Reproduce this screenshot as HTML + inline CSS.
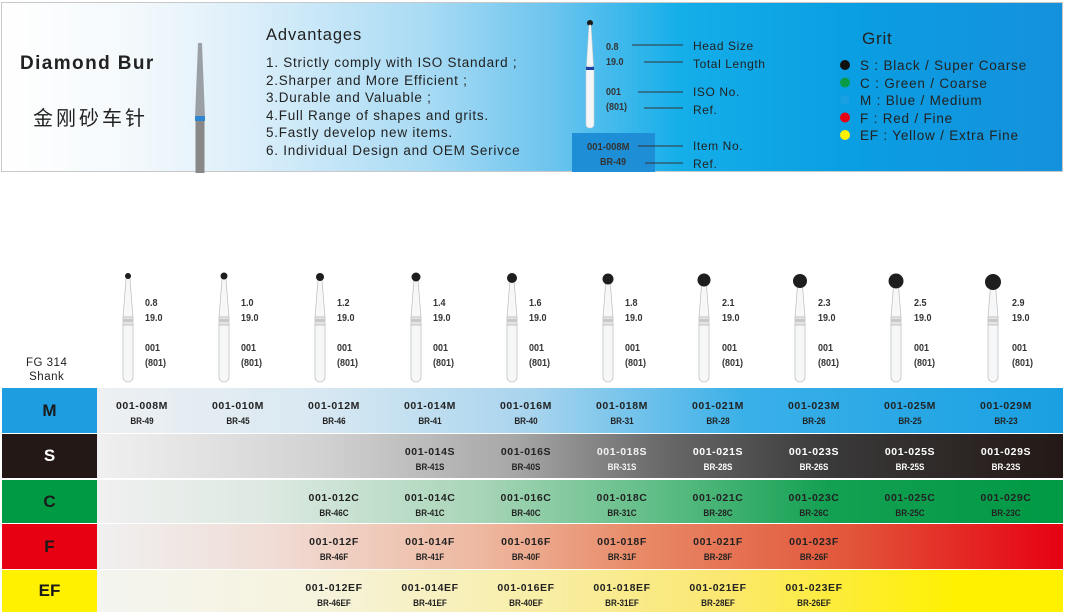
<!DOCTYPE html>
<html><head><meta charset="utf-8"><style>
*{margin:0;padding:0;box-sizing:border-box}
body{width:1065px;height:612px;background:#fff;position:relative;overflow:hidden;font-family:"Liberation Sans","Noto Sans CJK SC",sans-serif;color:#222}
.hdr{position:absolute;left:1px;top:2px;width:1062px;height:170px;border:1px solid #c8c8c8;background:linear-gradient(90deg,#fff 0%,#f4f9fc 12%,#dff0fa 22%,#a9dbf4 40%,#6cc4ee 52%,#14aee9 64%,#0a9ee2 80%,#1591dc 100%)}
.a{position:absolute;white-space:nowrap}
.row{position:absolute;left:2px;width:1061px}
.lab{position:absolute;left:0;top:0;width:95px;height:100%;display:flex;align-items:center;justify-content:center;font-weight:bold;font-size:17px}
.cell{position:absolute;width:96px;text-align:center;font-weight:bold;color:#222}
.cell b{display:block;font-size:10.5px;letter-spacing:.6px;margin-top:12px}
.cell i{display:block;font-style:normal;font-size:9.5px;margin-top:4px;transform:scaleX(.85)}
.sp{position:absolute;font-size:10px;font-weight:bold;line-height:15px;color:#333;transform:scaleX(.9);transform-origin:left}
</style></head><body>
<div class="hdr"></div>
<div class="a" style="left:20px;top:53px;font-size:19px;font-weight:bold;letter-spacing:1.4px">Diamond Bur</div>
<div class="a" style="left:33px;top:102px;font-size:20px;letter-spacing:3px">金刚砂车针</div>
<svg class="a" style="left:190px;top:40px" width="20" height="133"><polygon points="8,3 12,3 15,78 5,78" fill="#9aa0a6"/><rect x="5" y="76" width="10" height="5" fill="#2e86d0"/><rect x="5.5" y="81" width="9" height="52" fill="#888"/></svg>
<div class="a" style="left:266px;top:26px;font-size:16.5px;letter-spacing:.9px">Advantages</div>
<div class="a" style="left:266px;top:54px;font-size:13.5px;line-height:17.5px;letter-spacing:.75px">1. Strictly comply with ISO Standard ;<br>2.Sharper and More Efficient ;<br>3.Durable and Valuable ;<br>4.Full Range of shapes and grits.<br>5.Fastly develop new items.<br>6. Individual Design and OEM Serivce</div>
<div class="a" style="left:572px;top:133px;width:83px;height:39px;background:#1e8fd6"></div>
<svg class="a" style="left:580px;top:18px" width="20" height="115"><circle cx="10" cy="5" r="3" fill="#1a1a1a"/><polygon points="9,7 11,7 13.5,48 6.5,48" fill="#f4f6f8" stroke="#c8ccd0" stroke-width=".6"/><rect x="6" y="48" width="8" height="62" rx="3.5" fill="#f4f6f8" stroke="#c8ccd0" stroke-width=".6"/><rect x="6" y="49" width="8" height="3" fill="#2040a0"/></svg>
<div class="sp" style="left:606px;top:40px">0.8<br>19.0</div>
<div class="sp" style="left:606px;top:85px">001<br>(801)</div>
<div class="sp" style="left:587px;top:140px;font-size:10.5px">001-008M</div>
<div class="sp" style="left:600px;top:155px">BR-49</div>
<svg class="a" style="left:630px;top:40px" width="60" height="130" stroke="#333" stroke-width="1"><line x1="2" y1="5" x2="53" y2="5"/><line x1="14" y1="22" x2="53" y2="22"/><line x1="8" y1="52" x2="53" y2="52"/><line x1="14" y1="68" x2="53" y2="68"/><line x1="8" y1="106" x2="53" y2="106"/><line x1="15" y1="123" x2="53" y2="123"/></svg>
<div class="a" style="left:693px;top:38px;font-size:12px;line-height:17.5px;letter-spacing:.6px">Head Size<br>Total Length</div>
<div class="a" style="left:693px;top:84px;font-size:12px;line-height:17.5px;letter-spacing:.6px">ISO No.<br>Ref.</div>
<div class="a" style="left:693px;top:138px;font-size:12px;line-height:17.5px;letter-spacing:.6px">Item No.<br>Ref.</div>
<div class="a" style="left:862px;top:29px;font-size:17px;letter-spacing:.8px">Grit</div>
<svg class="a" style="left:838px;top:58px" width="14" height="82"><circle cx="7" cy="7" r="5" fill="#111"/><circle cx="7" cy="24.5" r="5" fill="#0a9b48"/><circle cx="7" cy="42" r="5" fill="#1a9fe2"/><circle cx="7" cy="59.5" r="5" fill="#e60012"/><circle cx="7" cy="77" r="5" fill="#fff100"/></svg>
<div class="a" style="left:860px;top:57px;font-size:13.5px;line-height:17.5px;letter-spacing:.8px">S : Black / Super Coarse<br>C : Green / Coarse<br>M : Blue / Medium<br>F : Red / Fine<br>EF : Yellow / Extra Fine</div>

<div class="a" style="left:26px;top:356px;font-size:11.5px;text-align:center;line-height:14px;letter-spacing:.5px">FG 314<br>Shank</div>

<svg class="a" style="left:0;top:265px" width="1065" height="122">
<defs><g id="b"><polygon points="-1.8,12 1.8,12 5,52 -5,52" fill="#f6f7f8" stroke="#bbb" stroke-width=".7"/><rect x="-5" y="52" width="10" height="8" fill="#e6e6e6" stroke="#bbb" stroke-width=".7"/><rect x="-5" y="54" width="10" height="3" fill="#c8c8c8"/><path d="M-5,60 V112 a5,5 0 0 0 10,0 V60 Z" fill="#f6f7f8" stroke="#bbb" stroke-width=".7"/></g></defs>
<g fill="#1e1e1e">
<use href="#b" x="128"/><circle cx="128" cy="11" r="3"/>
<use href="#b" x="224"/><circle cx="224" cy="11" r="3.5"/>
<use href="#b" x="320"/><circle cx="320" cy="12" r="4"/>
<use href="#b" x="416"/><circle cx="416" cy="12" r="4.5"/>
<use href="#b" x="512"/><circle cx="512" cy="13" r="5"/>
<use href="#b" x="608"/><circle cx="608" cy="14" r="5.5"/>
<use href="#b" x="704"/><circle cx="704" cy="15" r="6.5"/>
<use href="#b" x="800"/><circle cx="800" cy="16" r="7"/>
<use href="#b" x="896"/><circle cx="896" cy="16" r="7.5"/>
<use href="#b" x="993"/><circle cx="993" cy="17" r="8"/>
</g></svg>
<div class="sp" style="left:145px;top:296px">0.8<br>19.0</div><div class="sp" style="left:145px;top:341px">001<br>(801)</div>
<div class="sp" style="left:241px;top:296px">1.0<br>19.0</div><div class="sp" style="left:241px;top:341px">001<br>(801)</div>
<div class="sp" style="left:337px;top:296px">1.2<br>19.0</div><div class="sp" style="left:337px;top:341px">001<br>(801)</div>
<div class="sp" style="left:433px;top:296px">1.4<br>19.0</div><div class="sp" style="left:433px;top:341px">001<br>(801)</div>
<div class="sp" style="left:529px;top:296px">1.6<br>19.0</div><div class="sp" style="left:529px;top:341px">001<br>(801)</div>
<div class="sp" style="left:625px;top:296px">1.8<br>19.0</div><div class="sp" style="left:625px;top:341px">001<br>(801)</div>
<div class="sp" style="left:722px;top:296px">2.1<br>19.0</div><div class="sp" style="left:722px;top:341px">001<br>(801)</div>
<div class="sp" style="left:818px;top:296px">2.3<br>19.0</div><div class="sp" style="left:818px;top:341px">001<br>(801)</div>
<div class="sp" style="left:914px;top:296px">2.5<br>19.0</div><div class="sp" style="left:914px;top:341px">001<br>(801)</div>
<div class="sp" style="left:1012px;top:296px">2.9<br>19.0</div><div class="sp" style="left:1012px;top:341px">001<br>(801)</div>

<div class="row" style="top:388px;height:45px;background:linear-gradient(90deg,#eef0f2 9%,#d8e8f2 30%,#a8d4ee 50%,#3ab0e8 70%,#1aa0e2 100%)">
<div class="lab" style="background:#1e9ee0;color:#1a1a1a">M</div>
<div class="cell" style="left:92px"><b>001-008M</b><i>BR-49</i></div>
<div class="cell" style="left:188px"><b>001-010M</b><i>BR-45</i></div>
<div class="cell" style="left:284px"><b>001-012M</b><i>BR-46</i></div>
<div class="cell" style="left:380px"><b>001-014M</b><i>BR-41</i></div>
<div class="cell" style="left:476px"><b>001-016M</b><i>BR-40</i></div>
<div class="cell" style="left:572px"><b>001-018M</b><i>BR-31</i></div>
<div class="cell" style="left:668px"><b>001-021M</b><i>BR-28</i></div>
<div class="cell" style="left:764px"><b>001-023M</b><i>BR-26</i></div>
<div class="cell" style="left:860px"><b>001-025M</b><i>BR-25</i></div>
<div class="cell" style="left:956px"><b>001-029M</b><i>BR-23</i></div>
</div>
<div class="row" style="top:434px;height:44px;background:linear-gradient(90deg,#f0f0f0 9%,#d2d2d2 30%,#a8a8a8 48%,#6a6a6a 62%,#3a3a3a 78%,#231815 100%)">
<div class="lab" style="background:#231815;color:#fff">S</div>
<div class="cell" style="left:380px"><b>001-014S</b><i>BR-41S</i></div>
<div class="cell" style="left:476px"><b>001-016S</b><i>BR-40S</i></div>
<div class="cell" style="left:572px;color:#f4f4f4"><b>001-018S</b><i>BR-31S</i></div>
<div class="cell" style="left:668px;color:#fff"><b>001-021S</b><i>BR-28S</i></div>
<div class="cell" style="left:764px;color:#fff"><b>001-023S</b><i>BR-26S</i></div>
<div class="cell" style="left:860px;color:#fff"><b>001-025S</b><i>BR-25S</i></div>
<div class="cell" style="left:956px;color:#fff"><b>001-029S</b><i>BR-23S</i></div>
</div>
<div class="row" style="top:480px;height:43px;background:linear-gradient(90deg,#f0f0f0 9%,#dde9e2 25%,#a8d5b8 45%,#5ebd85 62%,#13a052 78%,#009944 100%)">
<div class="lab" style="background:#009944;color:#1a1a1a">C</div>
<div class="cell" style="left:284px"><b>001-012C</b><i>BR-46C</i></div>
<div class="cell" style="left:380px"><b>001-014C</b><i>BR-41C</i></div>
<div class="cell" style="left:476px"><b>001-016C</b><i>BR-40C</i></div>
<div class="cell" style="left:572px"><b>001-018C</b><i>BR-31C</i></div>
<div class="cell" style="left:668px"><b>001-021C</b><i>BR-28C</i></div>
<div class="cell" style="left:764px"><b>001-023C</b><i>BR-26C</i></div>
<div class="cell" style="left:860px"><b>001-025C</b><i>BR-25C</i></div>
<div class="cell" style="left:956px"><b>001-029C</b><i>BR-23C</i></div>
</div>
<div class="row" style="top:524px;height:45px;background:linear-gradient(90deg,#f0f0f0 9%,#f0ddd6 25%,#eeb8a0 45%,#e88a68 60%,#e2553a 80%,#e60012 100%)">
<div class="lab" style="background:#e60012;color:#1a1a1a">F</div>
<div class="cell" style="left:284px"><b>001-012F</b><i>BR-46F</i></div>
<div class="cell" style="left:380px"><b>001-014F</b><i>BR-41F</i></div>
<div class="cell" style="left:476px"><b>001-016F</b><i>BR-40F</i></div>
<div class="cell" style="left:572px"><b>001-018F</b><i>BR-31F</i></div>
<div class="cell" style="left:668px"><b>001-021F</b><i>BR-28F</i></div>
<div class="cell" style="left:764px"><b>001-023F</b><i>BR-26F</i></div>
</div>
<div class="row" style="top:570px;height:42px;background:linear-gradient(90deg,#f4f4f0 9%,#f6f3dc 30%,#f8eea8 50%,#fbe870 68%,#fff100 90%)">
<div class="lab" style="background:#fff100;color:#1a1a1a">EF</div>
<div class="cell" style="left:284px"><b>001-012EF</b><i>BR-46EF</i></div>
<div class="cell" style="left:380px"><b>001-014EF</b><i>BR-41EF</i></div>
<div class="cell" style="left:476px"><b>001-016EF</b><i>BR-40EF</i></div>
<div class="cell" style="left:572px"><b>001-018EF</b><i>BR-31EF</i></div>
<div class="cell" style="left:668px"><b>001-021EF</b><i>BR-28EF</i></div>
<div class="cell" style="left:764px"><b>001-023EF</b><i>BR-26EF</i></div>
</div>
</body></html>
